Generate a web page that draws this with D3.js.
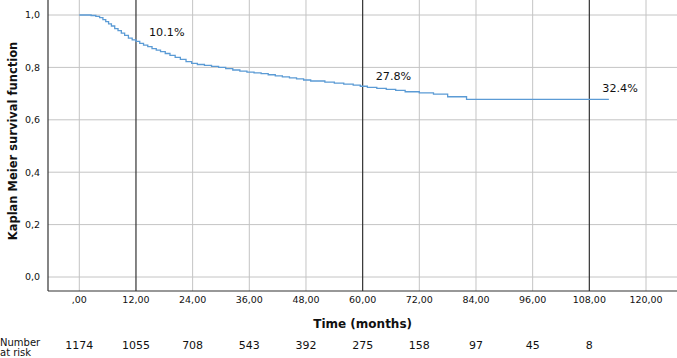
<!DOCTYPE html>
<html><head><meta charset="utf-8">
<script src="https://cdn.jsdelivr.net/npm/d3@7"></script>
<style>body{margin:0;background:#fff}svg{display:block}text{font-family:"DejaVu Sans",sans-serif;fill:#111}</style>
</head><body><svg id="c" width="677" height="358"></svg>
<script>
const times = [0,2.5,3.5,4.3,5.0,5.6,6.2,6.8,7.5,8.2,8.9,9.6,10.4,11.2,12.0,12.8,13.6,14.5,15.4,16.3,17.2,18.2,19.2,20.3,21.4,22.6,23.8,25,26.5,28,29.5,31,32.5,34,35.5,37,38.5,40,41.5,43,44.5,46,47.5,49,52,54,56,58,59.5,61,63,65,67,69,72,75,78,82,112];
const survival = [1.0,0.998,0.995,0.99,0.982,0.975,0.966,0.958,0.948,0.94,0.931,0.922,0.912,0.905,0.899,0.892,0.885,0.879,0.872,0.866,0.86,0.853,0.846,0.838,0.831,0.822,0.815,0.811,0.808,0.804,0.8,0.795,0.79,0.786,0.782,0.779,0.776,0.772,0.768,0.764,0.76,0.756,0.752,0.748,0.744,0.74,0.736,0.732,0.728,0.724,0.72,0.716,0.712,0.707,0.703,0.698,0.688,0.678,0.676];
const xTicks = [0,12,24,36,48,60,72,84,96,108,120];
const yTicks = [0,0.2,0.4,0.6,0.8,1.0];
const markerTimes = [12,60,108];
const markerLabels = ["10.1%","27.8%","32.4%"];
const markerLabelY = [0.933,0.766,0.72];
const riskTimes = [0,12,24,36,48,60,72,84,96,108];
const riskCounts = [1174,1055,708,543,392,275,158,97,45,8];

(function(){
const svg = d3.select("#c");
const x = d3.scaleLinear().domain([0,120]).range([79.3,646]);
const y = d3.scaleLinear().domain([0,1]).range([277,15]);
const pL = 48, pB = 291, pT = 0, pR = 677;

const fmtY = d => d3.format(".1f")(d).replace(".", ",");
const fmtX = d => d === 0 ? ",00" : d3.format(".2f")(d).replace(".", ",");

svg.append("g").selectAll("line").data(yTicks).join("line")
  .attr("x1", pL).attr("x2", pR).attr("y1", d=>y(d)).attr("y2", d=>y(d))
  .attr("stroke", "#c4c4c4").attr("stroke-width", 1);
svg.append("g").selectAll("line").data(xTicks.filter(t=>!markerTimes.includes(t))).join("line")
  .attr("x1", d=>x(d)).attr("x2", d=>x(d)).attr("y1", pT).attr("y2", pB)
  .attr("stroke", "#c4c4c4").attr("stroke-width", 1);
svg.append("g").selectAll("line").data(markerTimes).join("line")
  .attr("x1", d=>x(d)).attr("x2", d=>x(d)).attr("y1", pT).attr("y2", pB)
  .attr("stroke", "#333").attr("stroke-width", 1.2);

svg.append("line").attr("x1", pL).attr("x2", pL).attr("y1", pT).attr("y2", pB).attr("stroke","#333").attr("stroke-width",1.2);
svg.append("line").attr("x1", pL).attr("x2", pR).attr("y1", pB).attr("y2", pB).attr("stroke","#333").attr("stroke-width",1.2);

svg.append("g").selectAll("text").data(yTicks).join("text")
  .attr("x", 40).attr("y", d=>y(d)).attr("dy","0.35em").attr("text-anchor","end")
  .style("font-size","9.5px").text(fmtY);
svg.append("g").selectAll("text").data(xTicks).join("text")
  .attr("x", d=>x(d)).attr("y", 300).attr("dy","0.35em").attr("text-anchor","middle")
  .style("font-size","9.5px").text(fmtX);

const pts = times.map((t,i)=>[t, survival[i]]);
const line = d3.line().x(d=>x(d[0])).y(d=>y(d[1])).curve(d3.curveStepAfter);
svg.append("path").datum(pts).attr("d", line).attr("fill","none")
  .attr("stroke","#5b9bd5").attr("stroke-width",1.3);

svg.append("g").selectAll("text").data(markerTimes).join("text")
  .attr("x", d=>x(d)+13).attr("y", (d,i)=>y(markerLabelY[i])).attr("dy","0.35em")
  .style("font-size","11.2px").text((d,i)=>markerLabels[i]);

svg.append("text").attr("x", x(60)).attr("y", 324).attr("dy","0.35em").attr("text-anchor","middle")
  .style("font-size","12px").style("font-weight","bold").text("Time (months)");
svg.append("text").attr("transform","translate(13,141) rotate(-90)").attr("dy","0.35em").attr("text-anchor","middle")
  .style("font-size","11.5px").style("font-weight","bold").text("Kaplan Meier survival function");

svg.append("text").attr("x",0).attr("y",342).attr("dy","0.35em").style("font-size","10px").text("Number");
svg.append("text").attr("x",0).attr("y",352.5).attr("dy","0.35em").style("font-size","10px").text("at risk");
svg.append("g").selectAll("text").data(riskTimes).join("text")
  .attr("x", d=>x(d)).attr("y", 345).attr("dy","0.35em").attr("text-anchor","middle")
  .style("font-size","11px").text((d,i)=>riskCounts[i]);
})();
</script></body></html>
